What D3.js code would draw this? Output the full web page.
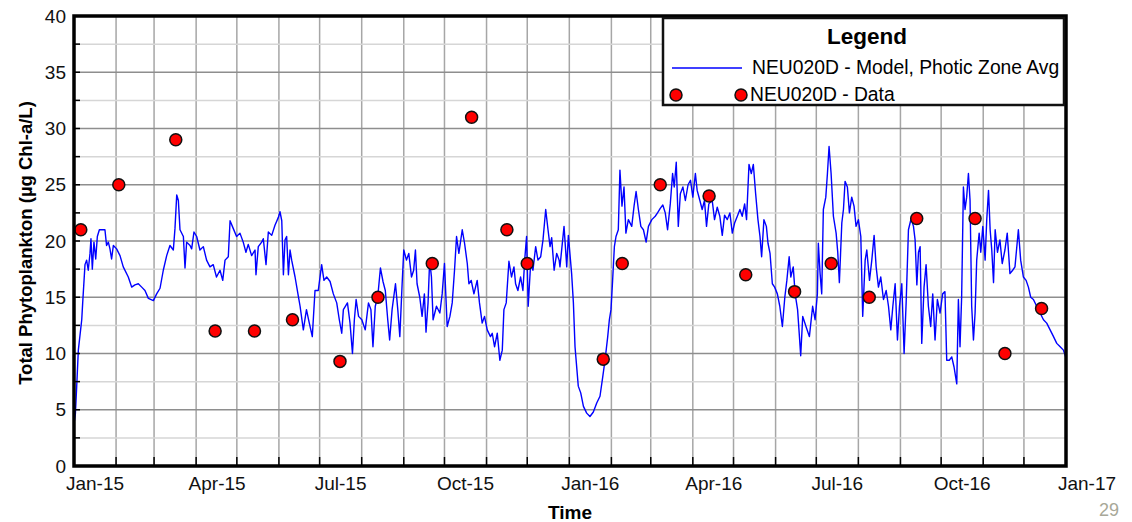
<!DOCTYPE html>
<html>
<head>
<meta charset="utf-8">
<script src="https://cdn.jsdelivr.net/npm/d3@7"></script>
<style>
  body { margin: 0; background: #fff; }
  svg { display: block; font-family: "Liberation Sans", Arial, sans-serif; }
</style>
</head>
<body>
<div id="chart"></div>
<script>
// --- DATA ---
const startDate = new Date(2015, 0, 1);
const endDate = new Date(2017, 0, 1);
const yTickValues = [0, 5, 10, 15, 20, 25, 30, 35, 40];
const seriesNames = ["NEU020D - Model, Photic Zone Avg", "NEU020D - Data"];

// observed samples
const obsDates = ["2015-01-06", "2015-02-03", "2015-03-17", "2015-04-15", "2015-05-14", "2015-06-11",
  "2015-07-16", "2015-08-13", "2015-09-22", "2015-10-21", "2015-11-16", "2015-12-01",
  "2016-01-26", "2016-02-09", "2016-03-08", "2016-04-13", "2016-05-10", "2016-06-15",
  "2016-07-12", "2016-08-09", "2016-09-13", "2016-10-26", "2016-11-17", "2016-12-14"];
const obsValues = [21, 25, 29, 12, 12, 13, 9.3, 15, 18, 31, 21, 18,
  9.5, 18, 25, 24, 17, 15.5, 18, 15, 22, 22, 10, 14];

// model: [days since 1 Jan 2015, value]
const modelSeries = [
  [0.3,4.0],[1,4.6],[2,7.1],[3.2,10.3],[5.7,13],[6.4,14.5],[8.1,17.9],[9.3,18.3],[10.5,17.4],[11.8,18.9],[12.5,20.2],[13.5,17.5],
  [14.7,19.9],[16,18.4],[17.2,20.4],[18.7,21],[21.6,21],[22.8,21],[24,19.6],[25.3,19.9],[26.5,19.3],[27.7,18.4],[29,19.6],
  [31.4,19.3],[33.9,18.7],[36.3,17.7],[40,16.8],[42.5,15.9],[44.9,16.1],[47.4,16.2],[49.9,15.9],[52.3,15.6],[54.8,14.9],
  [58.5,14.7],[60.9,15.3],[63.4,15.8],[65.8,17.4],[68.3,18.7],[70.7,19.6],[73.2,19.2],[74.4,21.1],[75.7,24.1],[76.9,23.6],
  [78.1,21],[80.6,20.4],[81.8,17.6],[83,19.9],[85.5,19.6],[86.7,19.3],[88.4,20.8],[90.4,20.4],[92.8,19.2],[95.3,19.5],
  [97.7,18.3],[100.2,17.7],[102.6,17.9],[105,16.8],[107.6,17.4],[109.6,16.5],[111.3,18.3],[113.7,18.6],[115,21.8],
  [117.4,21.1],[119.8,20.4],[122.3,20.7],[124.7,19.9],[126.7,19],[128.4,19.7],[130.9,18.7],[133.4,19.2],[134.1,17],
  [135.8,19.5],[138.3,19.9],[139.5,20.2],[141.5,17.9],[143.2,20.8],[145.7,20.5],[148.1,21.4],[150.6,22.1],[151.8,22.6],
  [153.1,21.8],[154.3,17],[155.5,20.1],[156.7,20.4],[158,17],[159.2,19.2],[160.4,18.3],[162.9,16.8],[165.3,15.1],[166.6,14.2],
  [169,12.1],[171.3,13.9],[173.4,12.7],[175.6,11.5],[177.6,15.6],[180,15.6],[182.5,17.9],[184.2,16.5],[186.2,16.8],
  [188.7,16.4],[191.1,15.3],[193.6,14.5],[195.5,13],[197.3,11.8],[198.5,13.9],[201.5,14.5],[203.4,12.7],[205.2,10],
  [206.6,13],[207.9,14.8],[209.7,13.3],[212.1,13],[214.6,12.1],[217,14.5],[218.8,13.9],[220.3,10.6],[222,14.2],[223.8,15],
  [225.8,17.6],[227.7,16.4],[229.4,15.6],[231.2,13],[232.6,11.2],[234.4,13.9],[236.9,16.2],[238.6,13.9],[240.1,11.5],
  [241.8,16.2],[243,19.2],[245,18.3],[246.7,18.9],[248.7,16.8],[250.3,17.4],[251.6,19.2],[252.8,16.2],[254.8,15],
  [256.5,13.3],[258.2,15.3],[259.4,11.9],[260.9,14.5],[262.1,18.3],[263.4,16.8],[264.6,13],[267.1,14.2],[269.6,13.6],
  [271.3,15.3],[273,18],[275,12.4],[277,13.3],[278.7,14.5],[280.4,17.4],[281.9,20.4],[283.6,18.9],[286.1,21],[287.8,19.8],
  [289.8,18],[291,16.2],[292.7,16.5],[294.7,15.3],[297.1,16.5],[298.8,14.5],[300.8,12.7],[302.5,13.3],[304.5,12.1],
  [306.9,11.5],[308.2,11.8],[309.9,10.6],[311.9,11.8],[313.8,9.4],[315.6,10.3],[316.8,13.9],[318.5,14.5],[320.5,18.2],
  [322.4,16.8],[324.2,17.7],[325.4,16.2],[327.1,15.6],[329.1,16.8],[330.8,15.6],[332.3,18.6],[333.5,20.4],[334.7,14.2],
  [336.5,18],[338.2,17.4],[340.2,19.5],[341.9,18.3],[343.9,18.6],[345.6,20.1],[347.6,22.8],[349.3,21],[350.8,19.5],
  [352,20.3],[353.8,17.4],[355.7,18.9],[357.5,18.3],
  [358.1,17.7],[361.1,21.3],[363.1,17.7],[364.3,20.5],[366.7,17.1],[368,14.5],[369.2,10.6],[371.6,7.1],[373.4,6.5],
  [375.4,5.3],[377.8,4.7],[380.2,4.4],[382.7,4.8],[385.2,5.6],[387.6,6.2],[389.6,7.9],[391.3,9.4],[393.3,11.5],[394.5,13],
  [395.7,13.9],[396.9,16.5],[398.2,19.5],[399.4,20.4],[401.1,21],[402.3,26.3],[403.8,23.1],[405.3,24.8],[406.7,20.7],
  [408.5,21.9],[411,21.3],[412.7,23.1],[414.2,24.4],[415.9,22.8],[417.7,21.3],[419.6,21],[421.6,19.9],[423.3,21.3],
  [425.8,21.9],[428.3,22.2],[430,22.5],[432,22.9],[433.9,23.2],[435.7,22.5],[437.4,21],[439.4,23.3],[441.1,26],
  [442.3,24.8],[443.8,27],[445.3,21.3],[446.8,24.2],[448.7,24.8],[450.5,23.6],[452.5,25],[454.3,25.4],[456,23.9],
  [457.9,26],[459.2,24.5],[461.2,23.6],[462.9,22.8],[464.6,23.6],[466.1,21.3],[467.8,23.3],[470.3,23.6],[472,21.9],
  [474,23],[475.9,22.2],[477.7,20.5],[479.4,22.3],[481.4,21.9],[483.3,22.5],[485.1,20.7],[486.8,21.6],[488.8,22.2],
  [490.7,22.8],[492.4,22.2],[494.2,23.3],[495.6,21.9],[497.4,26.8],[499.1,26],[500.6,26.8],[502.3,24.2],[504,21.9],
  [505.5,20.4],[506.7,18.6],[508.4,21.9],[510.2,21.3],[511.4,19.8],[512.9,18.9],[514.6,16.2],[516.3,15.9],[518.3,15.3],
  [520.1,14.2],[522,12.4],[523.8,15],[525.3,16.5],[527,18.6],[528.2,16.8],[530,17.7],[531.4,15.3],[533.2,13.9],
  [534.4,11.8],[535.5,9.8],[537,13.3],[539.4,12.4],[541.9,11.5],[544.3,14.2],[546.1,13],[547.8,15.3],[548.5,19.8],
  [549.8,17.1],[551,15.3],[552.2,22.8],[554,23.9],[555.2,26],[556.4,28.4],[557.9,26],[559.6,22.2],[561.6,20.7],[562.8,19],
  [564,16.3],[565.8,21.6],[567,22.8],[568.2,25.3],[569.9,24.8],[571.4,22.5],[573.1,23.9],[574.8,23.1],[576.3,21.3],
  [578,21.9],[579.8,20.4],[581.2,13.3],[583,18.3],[584.2,19.2],[586.2,16.5],[587.9,18.3],[589.6,20.5],[591.1,17.7],
  [592.8,15.9],[594.5,16.8],[596.5,14.8],[598.5,15.6],[600.2,14.2],[601.9,12.1],[603.4,14.2],[605.1,16.2],[606.8,11.2],
  [608.3,14.2],[610,16.2],[611.7,10],[613.2,14.5],[614.9,21],[616.9,22],[618.6,21.3],[619.8,20.1],[621.1,16.1],[622.3,19],
  [623.5,19.5],[624.7,10.9],[626.4,15.9],[627.9,17.9],[629.6,14.2],[631.3,12.4],[632.8,15.3],[634.5,11.2],[636.2,14.8],
  [638.2,13.6],[640.1,15.3],[641.8,15.5],[643.1,9.4],[645,9.4],[646.8,9.7],[648.5,8.8],[650.5,7.3],[651.7,14.8],
  [652.9,10.6],[654.1,15],[655.4,24.8],[656.6,22.8],[657.8,23.9],[659.1,26],[660.3,23.6],[661.5,14.2],[662.8,11.2],
  [664,13.6],[665.2,18.3],[667,20.7],[668.2,19],[669.7,21.3],[671.4,18.3],[672.6,21.9],[673.9,24.5],[675.1,21],
  [676.3,19.2],[677.6,16.3],[678.8,21],[680.5,19],[682.3,20.1],[684,18],[686,19.2],[687.7,20.7],[689.7,17.1],[691.7,17.4],
  [693.4,17.7],[695.9,21],[697.6,18.3],[699.6,16.8],[701.6,16.5],[703.3,15.9],[705,15],[707,14.8],[709.4,14.2],
  [711.9,13.6],[714.4,13],[716.8,12.7],[719.3,12.1],[721.8,11.5],[724.2,10.9],[726.7,10.6],[729.1,10.3],[731,9.6]
];

// --- LAYOUT ---
const width = 1132, height = 522;
const plot = { left: 74, right: 1066, top: 16, bottom: 466 };

const parseDate = d3.timeParse("%Y-%m-%d");
const dayToDate = d => new Date(startDate.getTime() + d * 864e5);

const x = d3.scaleTime().domain([startDate, endDate]).range([plot.left, plot.right]);
const y = d3.scaleLinear().domain([0, 40]).range([plot.bottom, plot.top]);

const svg = d3.select("#chart").append("svg")
    .attr("width", width)
    .attr("height", height);

// --- GRID ---
const grid = svg.append("g");
const months = d3.timeMonth.range(d3.timeMonth.offset(startDate, 1), endDate);

grid.selectAll(".vgrid")
    .data(months)
    .join("line")
    .attr("x1", d => x(d)).attr("x2", d => x(d))
    .attr("y1", plot.top).attr("y2", plot.bottom)
    .attr("stroke", "#a6a6a6")
    .attr("stroke-width", 1.5);

const hLines = d3.range(2.5, 40, 2.5);
grid.selectAll(".hgrid")
    .data(hLines)
    .join("line")
    .attr("x1", plot.left).attr("x2", plot.right)
    .attr("y1", d => y(d)).attr("y2", d => y(d))
    .attr("stroke", d => d % 5 === 0 ? "#8e8e8e" : "#d6d6d6")
    .attr("stroke-width", 1.5);

// --- MODEL LINE ---
const line = d3.line()
    .x(d => x(dayToDate(d[0])))
    .y(d => y(d[1]));

svg.append("path")
    .datum(modelSeries)
    .attr("fill", "none")
    .attr("stroke", "#0000ff")
    .attr("stroke-width", 1.4)
    .attr("stroke-linejoin", "round")
    .attr("d", line);

// --- OBSERVED POINTS ---
const obs = obsDates.map((d, i) => ({ date: parseDate(d), value: obsValues[i] }));
svg.append("g").selectAll("circle")
    .data(obs)
    .join("circle")
    .attr("cx", d => x(d.date))
    .attr("cy", d => y(d.value))
    .attr("r", 6)
    .attr("fill", "#ff0000")
    .attr("stroke", "#111")
    .attr("stroke-width", 1.5);

// --- FRAME & TICKS ---
svg.append("rect")
    .attr("x", plot.left).attr("y", plot.top)
    .attr("width", plot.right - plot.left)
    .attr("height", plot.bottom - plot.top)
    .attr("fill", "none")
    .attr("stroke", "#000")
    .attr("stroke-width", 3.5);

svg.append("g").selectAll("line")
    .data(d3.range(2.5, 40, 2.5))
    .join("line")
    .attr("x1", plot.left).attr("x2", plot.left + 6)
    .attr("y1", d => y(d)).attr("y2", d => y(d))
    .attr("stroke", "#000").attr("stroke-width", 1.5);

svg.append("g").selectAll("line")
    .data(months)
    .join("line")
    .attr("x1", d => x(d)).attr("x2", d => x(d))
    .attr("y1", plot.bottom).attr("y2", plot.bottom - 9)
    .attr("stroke", "#000").attr("stroke-width", 1.5);

// y tick labels
svg.append("g").selectAll("text")
    .data(yTickValues)
    .join("text")
    .attr("x", plot.left - 8)
    .attr("y", d => y(d))
    .attr("dy", "0.35em")
    .attr("text-anchor", "end")
    .style("font-size", "19px")
    .attr("fill", "#111")
    .text(d => d);

// x tick labels, quarterly
const fmt = d3.timeFormat("%b-%y");
svg.append("g").selectAll("text")
    .data(x.ticks(d3.timeMonth.every(3)))
    .join("text")
    .attr("x", d => x(d) + 21)
    .attr("y", 490)
    .attr("text-anchor", "middle")
    .style("font-size", "19px")
    .attr("fill", "#111")
    .text(d => fmt(d));

// axis titles
svg.append("text")
    .attr("x", 570).attr("y", 519)
    .attr("text-anchor", "middle")
    .style("font-size", "19px").style("font-weight", "bold")
    .text("Time");

svg.append("text")
    .attr("transform", `translate(32, ${(plot.top + plot.bottom) / 2 + 2}) rotate(-90)`)
    .attr("text-anchor", "middle")
    .style("font-size", "18.5px").style("font-weight", "bold")
    .text("Total Phytoplankton (µg Chl-a/L)");

// page number
svg.append("text")
    .attr("x", 1119).attr("y", 516)
    .attr("text-anchor", "end")
    .style("font-size", "18px")
    .attr("fill", "#a8a898")
    .text("29");

// --- LEGEND ---
const legend = svg.append("g");
legend.append("rect")
    .attr("x", 663).attr("y", 18)
    .attr("width", 401).attr("height", 87)
    .attr("fill", "#fff")
    .attr("stroke", "#111")
    .attr("stroke-width", 2.5);

legend.append("text")
    .attr("x", 867).attr("y", 44)
    .attr("text-anchor", "middle")
    .style("font-size", "22.5px").style("font-weight", "bold")
    .text("Legend");

legend.append("line")
    .attr("x1", 672).attr("x2", 742)
    .attr("y1", 68).attr("y2", 68)
    .attr("stroke", "#0000ff").attr("stroke-width", 1.4);

legend.append("text")
    .attr("x", 752).attr("y", 74)
    .style("font-size", "19.3px")
    .text(seriesNames[0]);

legend.selectAll("circle")
    .data([676, 741])
    .join("circle")
    .attr("cx", d => d).attr("cy", 95)
    .attr("r", 6)
    .attr("fill", "#ff0000")
    .attr("stroke", "#111")
    .attr("stroke-width", 1.5);

legend.append("text")
    .attr("x", 750).attr("y", 101)
    .style("font-size", "19.3px")
    .text(seriesNames[1]);
</script>
</body>
</html>
